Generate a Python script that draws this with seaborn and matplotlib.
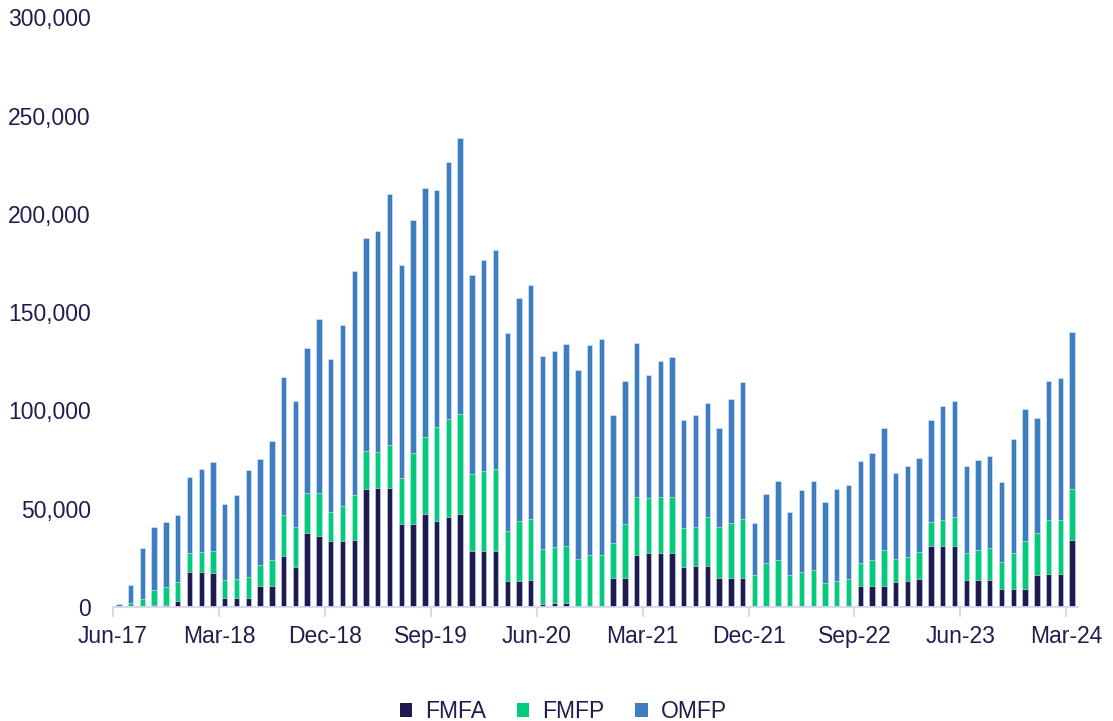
import pandas as pd
import seaborn as sns
import matplotlib.pyplot as plt
from matplotlib.patches import Patch
from matplotlib.ticker import FuncFormatter

# monthly values, Jun-17 .. Mar-24
months = pd.date_range('2017-06-01', periods=82, freq='MS').strftime('%b-%y').tolist()

fmfa = [0, 500, 500, 1200, 1200, 3000, 17800, 17800, 17500, 4700,
        4700, 4700, 10700, 10700, 26100, 20500, 37800, 36300, 33700, 33700,
        34100, 60200, 60700, 60500, 42200, 42200, 47500, 43900, 45900, 47500,
        28500, 28500, 28500, 13200, 13200, 13600, 1500, 2200, 2200, 0,
        0, 0, 14700, 14700, 26600, 27600, 27600, 27600, 20500, 20800,
        20800, 14900, 14900, 14900, 0, 0, 0, 0, 0, 0,
        0, 0, 0, 10800, 10800, 10800, 12700, 13200, 14200, 31000,
        31000, 31000, 13700, 13700, 13700, 9200, 9200, 9200, 16300, 16800,
        16800, 34100]

fmfp = [0, 1400, 3700, 7300, 8800, 9700, 9500, 10200, 10800, 9000,
        9700, 10700, 10700, 13000, 20500, 20200, 20000, 21500, 14600, 17700,
        22700, 19100, 18400, 21900, 23300, 36100, 39000, 47800, 49700, 50500,
        39000, 40500, 41500, 25600, 30400, 31000, 27800, 28200, 29000, 24300,
        26400, 26300, 17700, 27500, 29500, 27700, 28500, 28500, 19700, 20000,
        24800, 25600, 28000, 29700, 16100, 22200, 23700, 16100, 18000, 18700,
        12000, 13400, 14100, 11400, 12900, 18200, 11700, 12400, 13800, 12400,
        13100, 14600, 13600, 15100, 16100, 13500, 18100, 24200, 21200, 27400,
        27400, 26100]

omfp = [1500, 9300, 25800, 32000, 33200, 33900, 38700, 42200, 45600, 38500,
        42400, 54400, 53900, 60700, 70200, 63900, 73900, 88800, 77700, 92200,
        114100, 108500, 112100, 127600, 108400, 118700, 126600, 120500, 130700, 140700,
        101500, 107500, 111400, 100400, 113400, 119200, 98200, 100100, 102400, 96100,
        106700, 110200, 65200, 72900, 78200, 62700, 69200, 70900, 54900, 57000,
        58300, 50500, 62900, 69800, 26500, 35100, 40200, 32100, 41500, 45400,
        41200, 46800, 47900, 52100, 54500, 62000, 43600, 46100, 47800, 51700,
        58300, 59200, 44400, 46000, 47200, 41000, 58300, 67300, 58800, 70900,
        72300, 79500]

series = ['FMFA', 'FMFP', 'OMFP']
colors = {'FMFA': '#211a50', 'FMFP': '#00cc7a', 'OMFP': '#3d7ec0'}
text_color = '#221c4e'
axis_color = '#d6d6ef'

df = pd.DataFrame({'month': months, 'FMFA': fmfa, 'FMFP': fmfp, 'OMFP': omfp})
df['top_fmfa'] = df['FMFA']
df['top_fmfp'] = df['FMFA'] + df['FMFP']
df['top_omfp'] = df['top_fmfp'] + df['OMFP']

sns.set_theme(style='white')
plt.rcParams['font.family'] = ['Liberation Sans', 'DejaVu Sans']

fig, ax = plt.subplots(figsize=(11.13, 7.21), dpi=100)
fig.subplots_adjust(left=0.1015, right=0.9686, bottom=0.158, top=0.976)

# stacked bars drawn as overlapping cumulative totals
for col, name in [('top_omfp', 'OMFP'), ('top_fmfp', 'FMFP'), ('top_fmfa', 'FMFA')]:
    sns.barplot(data=df, x='month', y=col, color=colors[name], width=0.46,
                saturation=1, edgecolor='#e4ecf7', linewidth=0.4, ax=ax)

ax.set_xlim(-0.5, 81.5)
ax.set_ylim(0, 300000)
ax.set_yticks(range(0, 300001, 50000))
ax.yaxis.set_major_formatter(FuncFormatter(lambda v, p: f'{int(v):,}'))

tick_idx = list(range(0, 82, 9))
ax.set_xticks([i - 0.5 for i in tick_idx])
ax.set_xticklabels([months[i] for i in tick_idx])

ax.set_xlabel('')
ax.set_ylabel('')
for side in ['top', 'right', 'left']:
    ax.spines[side].set_visible(False)
ax.spines['bottom'].set_color(axis_color)
ax.spines['bottom'].set_linewidth(1.3)

ax.tick_params(axis='x', length=7, width=1.3, color=axis_color, labelsize=16.5,
               labelcolor=text_color, pad=6, bottom=True)
ax.tick_params(axis='y', length=0, labelsize=16.5, labelcolor=text_color, pad=16)
ax.grid(False)

handles = [Patch(facecolor=colors[s], edgecolor='none', label=s) for s in series]
fig.legend(handles=handles, loc='center', bbox_to_anchor=(0.506, 0.013), ncol=3,
           frameon=False, fontsize=16.5, labelcolor=text_color,
           handlelength=0.55, handleheight=0.55, handletextpad=0.55, columnspacing=1.35)

fig.savefig('out.png', dpi=100)
